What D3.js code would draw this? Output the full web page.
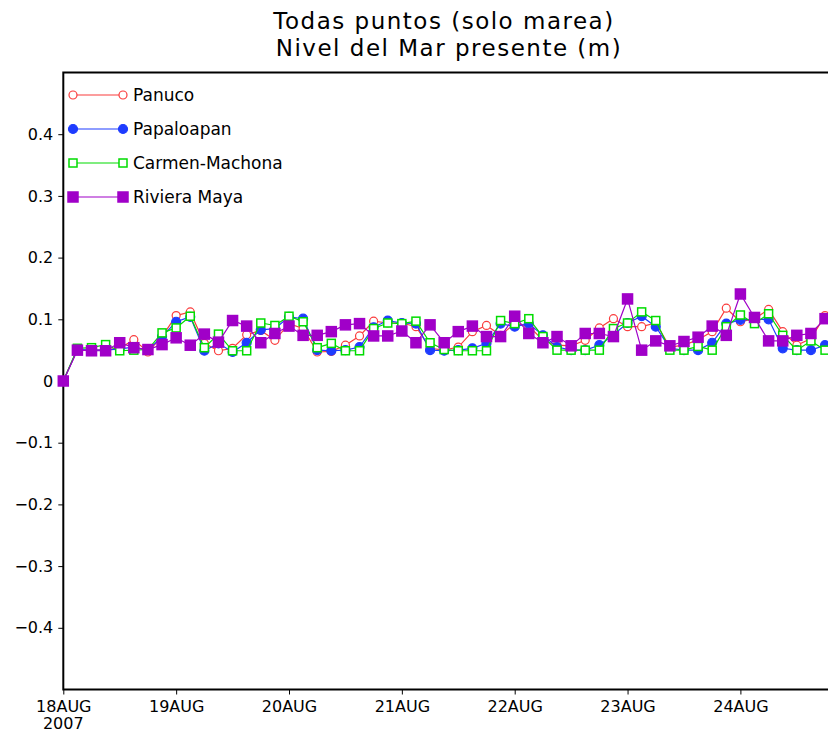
<!DOCTYPE html>
<html>
<head>
<meta charset="utf-8">
<script src="https://cdn.jsdelivr.net/npm/d3@7"></script>
<style>
  body { margin: 0; background: #fff; overflow: hidden; }
  text { font-family: "DejaVu Sans", sans-serif; fill: #000; }
</style>
</head>
<body>
<div id="chart"></div>
<script>
// 3-hourly sea level (m), starting 18AUG2007 00Z
var panuco = [0, .051, .050, .051, .053, .067, .047, .072, .106, .112, .061, .049, .053, .075, .082, .066,
  .093, .085, .047, .048, .058, .073, .097, .094, .094, .088, .053, .050, .055, .080, .090, .074,
  .093, .089, .066, .058, .057, .066, .086, .101, .088, .088, .094, .055, .058, .067, .080, .118,
  .096, .101, .116, .080, .058, .069, .106];
var papaloapan = [0, .051, .050, .050, .052, .055, .050, .072, .096, .104, .049, .061, .047, .062, .083, .085,
  .104, .101, .050, .049, .050, .055, .087, .098, .094, .093, .050, .049, .050, .053, .061, .093,
  .088, .093, .074, .055, .050, .050, .058, .075, .094, .105, .088, .053, .050, .050, .062, .093,
  .099, .100, .100, .053, .050, .050, .058];
var carmen = [0, .053, .054, .059, .049, .050, .051, .078, .086, .105, .054, .076, .049, .049, .094, .090,
  .105, .096, .054, .061, .049, .049, .085, .094, .093, .097, .062, .051, .049, .049, .049, .098,
  .093, .101, .072, .050, .050, .050, .050, .085, .094, .112, .098, .050, .050, .056, .050, .088,
  .107, .093, .109, .074, .050, .065, .050];
var riviera = [0, .050, .049, .049, .062, .054, .051, .059, .070, .058, .076, .063, .098, .089, .062, .077,
  .089, .074, .074, .080, .091, .093, .073, .073, .081, .062, .091, .062, .080, .089, .072, .072,
  .105, .077, .062, .072, .057, .077, .077, .072, .133, .050, .065, .057, .064, .071, .089, .074,
  .141, .103, .065, .065, .074, .077, .101];

var seriesNames = ["Panuco", "Papaloapan", "Carmen-Machona", "Riviera Maya"];
var yTicks = [-0.4, -0.3, -0.2, -0.1, 0, 0.1, 0.2, 0.3, 0.4];
var dayTicks = ["18AUG", "19AUG", "20AUG", "21AUG", "22AUG", "23AUG", "24AUG"];

var start = Date.UTC(2007, 7, 18);
var step = 3 * 3600 * 1000;

var series = [
  {name: seriesNames[0], values: panuco, color: "#fa3c3c", shape: "circle", fill: false},
  {name: seriesNames[1], values: papaloapan, color: "#1e3cff", shape: "circle", fill: true},
  {name: seriesNames[2], values: carmen, color: "#00dc00", shape: "square", fill: false},
  {name: seriesNames[3], values: riviera, color: "#a000c8", shape: "square", fill: true}
];

var width = 828, height = 736;
var plotLeft = 63.3, plotTop = 72.5, plotBottom = 689.5;

var svg = d3.select("#chart").append("svg")
    .attr("width", width)
    .attr("height", height);

var x = d3.scaleUtc()
    .domain([new Date(start), new Date(Date.UTC(2007, 7, 26))])
    .range([plotLeft, plotLeft + 8 * 112.85]);

var y = d3.scaleLinear()
    .domain([-0.5, 0.5])
    .range([plotBottom, plotTop]);

// title
svg.append("text").attr("x", 444).attr("y", 29)
    .attr("text-anchor", "middle").style("font-size", "23px").style("letter-spacing", "1.5px")
    .text("Todas puntos (solo marea)");
svg.append("text").attr("x", 449).attr("y", 56)
    .attr("text-anchor", "middle").style("font-size", "23px").style("letter-spacing", "1.5px")
    .text("Nivel del Mar presente (m)");

// frame
svg.append("rect")
    .attr("x", plotLeft).attr("y", plotTop)
    .attr("width", x.range()[1] - plotLeft).attr("height", plotBottom - plotTop)
    .attr("fill", "none").attr("stroke", "#000").attr("stroke-width", 2);

// y axis
var yAxis = svg.append("g").attr("transform", "translate(" + plotLeft + ",0)")
    .call(d3.axisLeft(y).tickValues(yTicks).tickSize(5).tickPadding(5)
      .tickFormat(function(d) { return d === 0 ? "0" : d3.format(".1f")(d).replace("-", "\u2212"); }));
yAxis.select(".domain").remove();
yAxis.selectAll("line").attr("stroke", "#000");
yAxis.selectAll("text").style("font-size", "16px").style("font-family", "DejaVu Sans, sans-serif");

// x axis
var dayDates = dayTicks.map(function(d, i) { return new Date(start + i * 8 * step); });
var xAxis = svg.append("g").attr("transform", "translate(0," + plotBottom + ")")
    .call(d3.axisBottom(x).tickValues(dayDates).tickSize(5).tickPadding(6)
      .tickFormat(function(d, i) { return dayTicks[i]; }));
xAxis.select(".domain").remove();
xAxis.selectAll("line").attr("stroke", "#000");
xAxis.selectAll("text").style("font-size", "16px").style("font-family", "DejaVu Sans, sans-serif");
svg.append("text").attr("x", x.range()[0]).attr("y", 729)
    .attr("text-anchor", "middle").style("font-size", "16px").text("2007");

function drawMarker(g, s, cx, cy, size) {
  if (s.shape === "circle") {
    g.append("circle").attr("cx", cx).attr("cy", cy)
      .attr("r", s.fill ? size / 2 + 0.5 : size / 2)
      .attr("fill", s.fill ? s.color : "#fff")
      .attr("stroke", s.color).attr("stroke-width", 1.2);
  } else {
    var w = s.fill ? size + 2 : size;
    g.append("rect").attr("x", cx - w / 2).attr("y", cy - w / 2)
      .attr("width", w).attr("height", w)
      .attr("fill", s.fill ? s.color : "#fff")
      .attr("stroke", s.color).attr("stroke-width", 1.5);
  }
}

var line = d3.line()
    .x(function(d, i) { return x(new Date(start + i * step)); })
    .y(function(d) { return y(d); });

series.forEach(function(s) {
  var g = svg.append("g");
  g.append("path").datum(s.values)
    .attr("d", line)
    .attr("fill", "none")
    .attr("stroke", s.color)
    .attr("stroke-width", 1.2);
  s.values.forEach(function(v, i) {
    drawMarker(g, s, x(new Date(start + i * step)), y(v), 8);
  });
});

// legend
var legendY = [95, 129, 163, 197];
series.forEach(function(s, i) {
  var g = svg.append("g");
  g.append("line").attr("x1", 73).attr("x2", 123)
    .attr("y1", legendY[i]).attr("y2", legendY[i])
    .attr("stroke", s.color).attr("stroke-width", 1.2);
  drawMarker(g, s, 73, legendY[i], 8);
  drawMarker(g, s, 123, legendY[i], 8);
  g.append("text").attr("x", 133).attr("y", legendY[i] + 6)
    .style("font-size", "17px").text(s.name);
});
</script>
</body>
</html>
